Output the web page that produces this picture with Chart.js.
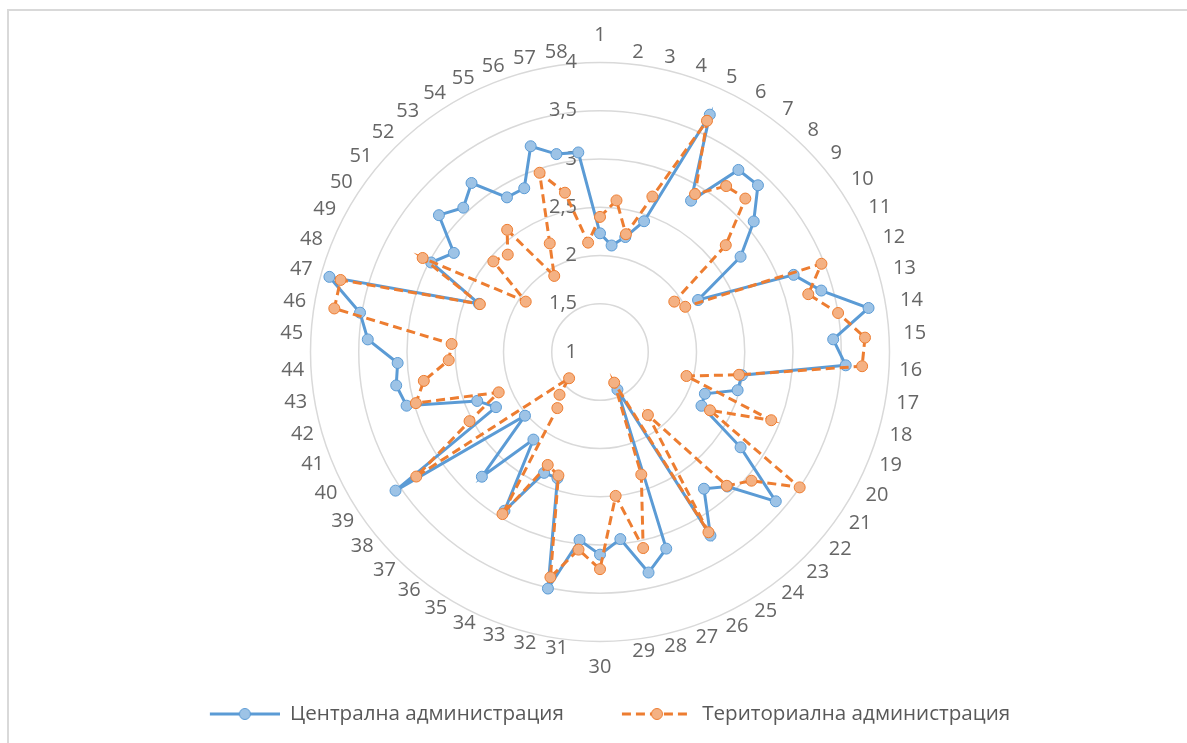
<!DOCTYPE html>
<html>
<head>
<meta charset="utf-8">
<script src="https://cdn.jsdelivr.net/npm/chart.js@4.4.1/dist/chart.umd.min.js"></script>
<style>
  html, body { margin: 0; padding: 0; background: #fff; overflow: hidden; }
  #wrap { position: relative; width: 1187px; height: 743px; }
  #frame { position: absolute; left: 7px; top: 9px; width: 3000px; height: 3000px; border: 2px solid #d9d9d9; box-sizing: border-box; }
  #c { position: absolute; left: 0; top: 0; }
</style>
</head>
<body>
<div id="wrap">
  <div id="frame"></div>
  <canvas id="c" width="1187" height="743"></canvas>
</div>
<script>
// Categories (question numbers) around the radar
const categories = ['1','2','3','4','5','6','7','8','9','10','11','12','13','14','15','16','17','18','19','20',
  '21','22','23','24','25','26','27','28','29','30','31','32','33','34','35','36','37','38','39','40',
  '41','42','43','44','45','46','47','48','49','50','51','52','53','54','55','56','57','58'];

// Average scores, central administration
const centralValues = [2.23, 2.11, 2.22, 2.43, 3.71, 2.83, 3.37, 3.38, 3.09, 2.76,
  2.15, 3.16, 3.38, 3.82, 3.42, 3.55, 2.49, 2.48, 2.17, 2.19,
  2.76, 3.39, 2.92, 2.78, 3.22, 1.43, 3.15, 3.34, 2.95, 3.10,
  2.96, 3.51, 2.38, 2.38, 2.92, 2.14, 2.78, 2.02, 3.56, 2.22,
  2.37, 3.08, 3.14, 3.10, 3.41, 3.52, 3.91, 2.35, 2.98, 2.83,
  3.19, 3.06, 3.20, 2.87, 2.87, 3.25, 3.10, 3.08];

// Average scores, territorial administration
const territorialValues = [2.40, 2.58, 2.25, 2.70, 3.64, 2.91, 3.16, 3.19, 2.71, 1.93,
  2.00, 3.47, 3.24, 3.50, 3.75, 3.72, 2.46, 1.93, 2.91, 2.29,
  3.50, 3.06, 2.91, 1.82, 3.18, 1.35, 2.34, 3.08, 2.50, 3.25,
  3.06, 3.39, 2.35, 2.29, 2.96, 1.73, 1.61, 1.42, 3.30, 2.53,
  2.13, 2.98, 2.85, 2.57, 2.54, 3.79, 3.79, 2.34, 3.08, 1.93,
  2.45, 2.39, 2.59, 1.92, 2.24, 2.96, 2.69, 2.14];

// Radial axis tick labels (decimal comma)
const tickLabels = ['1', '1,5', '2', '2,5', '3', '3,5', '4'];

const seriesNames = ['Централна администрация', 'Териториална администрация'];

const BLUE = '#5b9bd5', BLUE_FILL = '#9dc3e6';
const ORANGE = '#ed7d31', ORANGE_FILL = '#f4b183';
const TEXT = '#666666';
const FONT = "'Open Sans', 'Noto Sans', sans-serif";
const LEGEND_SIZE = 20.6;

// Legend swatch: a short line with a marker in the middle, right-aligned in its box
const SWATCH_W = 90;
function swatch(stroke, fill, dash) {
  const c = document.createElement('canvas');
  c.width = SWATCH_W; c.height = 16;
  const g = c.getContext('2d');
  const x1 = SWATCH_W - 70, x2 = SWATCH_W, y = 8;
  g.strokeStyle = stroke; g.lineWidth = 3; g.setLineDash(dash);
  g.beginPath(); g.moveTo(x1, y); g.lineTo(x2, y); g.stroke();
  g.setLineDash([]);
  g.beginPath(); g.arc((x1 + x2) / 2, y, 5.5, 0, Math.PI * 2);
  g.fillStyle = fill; g.fill(); g.lineWidth = 1; g.stroke();
  return c;
}
const swatches = [swatch(BLUE, BLUE_FILL, []), swatch(ORANGE, ORANGE_FILL, [9, 5])];

// Category label distance from the outer ring, varying with direction
function labelPadding(i, n) {
  if (i === 0) return 24.5;
  if (2 * i === n) return 23;
  const a = i * 2 * Math.PI / n;
  const s2 = Math.sin(a) * Math.sin(a);
  const c = Math.abs(Math.cos(a));
  const deg = a * 180 / Math.PI;
  let base;
  if (deg < 90) base = 4 + 10 * s2;
  else if (deg < 180) base = 4 + 6 * s2;
  else if (deg < 270) base = 1 + 5.5 * s2;
  else base = 4 + 3.5 * s2;
  return base + 5 * c;
}

// Tick labels sit just left of the vertical axis, right-aligned
const tickLabelPlugin = {
  id: 'tickLabelsLeft',
  beforeDatasetsDraw(chart) {
    const s = chart.scales.r;
    const ctx = chart.ctx;
    ctx.save();
    ctx.font = '20px ' + FONT;
    ctx.fillStyle = TEXT;
    ctx.textAlign = 'right';
    ctx.textBaseline = 'middle';
    s.ticks.forEach((t) => {
      const d = s.getDistanceFromCenterForValue(t.value);
      ctx.fillText(t.label, s.xCenter - 23, s.yCenter - d);
    });
    ctx.restore();
  }
};

new Chart(document.getElementById('c'), {
  type: 'radar',
  data: {
    labels: categories,
    datasets: [
      {
        label: seriesNames[0],
        data: centralValues,
        borderColor: BLUE,
        backgroundColor: BLUE_FILL,
        borderWidth: 3,
        fill: false,
        tension: 0,
        pointRadius: 5.5,
        pointHoverRadius: 5.5,
        pointBackgroundColor: BLUE_FILL,
        pointBorderColor: BLUE,
        pointBorderWidth: 1,
        order: 1
      },
      {
        label: seriesNames[1],
        data: territorialValues,
        borderColor: ORANGE,
        backgroundColor: ORANGE_FILL,
        borderWidth: 3,
        borderDash: [9, 5],
        fill: false,
        tension: 0,
        pointRadius: 5.5,
        pointHoverRadius: 5.5,
        pointBackgroundColor: ORANGE_FILL,
        pointBorderColor: ORANGE,
        pointBorderWidth: 1,
        order: 0
      }
    ]
  },
  options: {
    responsive: false,
    animation: false,
    devicePixelRatio: 1,
    layout: { padding: { top: 33, bottom: 8.7, left: 13, right: 0 } },
    scales: {
      r: {
        min: 1,
        max: 4,
        ticks: {
          stepSize: 0.5,
          display: false,
          callback: (v, i) => tickLabels[i]
        },
        grid: { circular: true, color: '#d9d9d9', lineWidth: 1.5 },
        angleLines: { display: false },
        pointLabels: {
          color: TEXT,
          font: { family: FONT, size: 20, lineHeight: 0.25 },
          padding: (ctx) => labelPadding(ctx.index, categories.length)
        }
      }
    },
    plugins: {
      tooltip: { enabled: false },
      legend: {
        position: 'bottom',
        labels: {
          color: '#595959',
          font: { family: FONT, size: LEGEND_SIZE },
          usePointStyle: true,
          pointStyleWidth: SWATCH_W,
          padding: 32.7,
          generateLabels(chart) {
            const items = Chart.defaults.plugins.legend.labels.generateLabels(chart);
            items.sort((a, b) => a.datasetIndex - b.datasetIndex);
            items.forEach((it) => {
              it.pointStyle = swatches[it.datasetIndex];
              if (it.datasetIndex === 0) it.text += ' ';
            });
            return items;
          }
        }
      }
    }
  },
  plugins: [tickLabelPlugin]
});
</script>
</body>
</html>
